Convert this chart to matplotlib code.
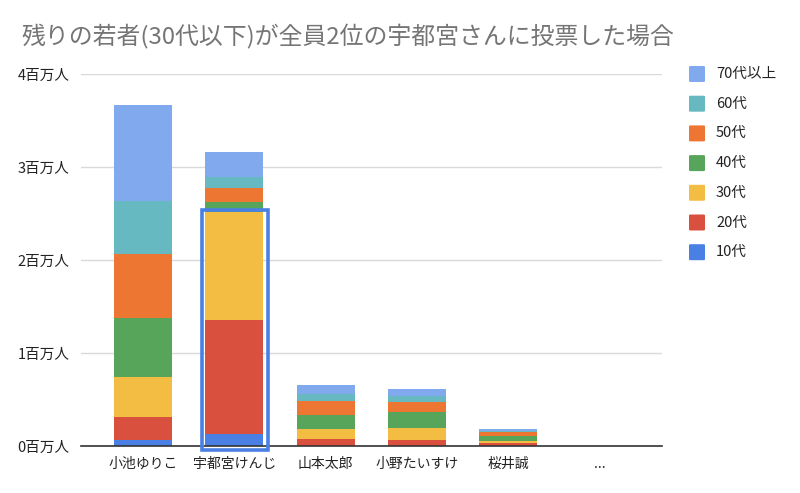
import matplotlib
matplotlib.use("Agg")
import matplotlib.pyplot as plt
from matplotlib.patches import Rectangle, FancyBboxPatch
import numpy as np

plt.rcParams['font.family'] = ['Noto Sans CJK JP', 'DejaVu Sans']

# Data (millions of voters)
candidates = ["小池ゆりこ", "宇都宮けんじ", "山本太郎", "小野たいすけ", "桜井誠", "..."]
age_groups = ["10代", "20代", "30代", "40代", "50代", "60代", "70代以上"]
v10 = [0.06, 0.126, 0.005, 0.005, 0.005, 0]
v20 = [0.25, 1.232, 0.075, 0.06, 0.024, 0]
v30 = [0.43, 1.162, 0.10, 0.129, 0.021, 0]
v40 = [0.634, 0.107, 0.158, 0.175, 0.061, 0]
v50 = [0.69, 0.143, 0.143, 0.10, 0.039, 0]
v60 = [0.57, 0.126, 0.079, 0.068, 0.008, 0]
v70 = [1.03, 0.262, 0.093, 0.071, 0.021, 0]
series = [v10, v20, v30, v40, v50, v60, v70]
colors = ['#4a80e3', '#d9503f', '#f2bd42', '#57a55b', '#ec7632', '#67b9c1', '#81a9ee']
yticks = [0, 1, 2, 3, 4]
ytick_labels = ["0百万人", "1百万人", "2百万人", "3百万人", "4百万人"]

fig = plt.figure(figsize=(8, 4.93), dpi=100)
ax = fig.add_axes([0.101, 0.0953, 0.7265, 0.7547])

x = np.arange(len(candidates))
bottom = np.zeros(len(candidates))
for vals, col, name in zip(series, colors, age_groups):
    ax.bar(x, vals, width=0.635, bottom=bottom, color=col, label=name, zorder=2)
    bottom += np.array(vals)

# highlight box around the young voters of the 2nd candidate
young = v10[1] + v20[1] + v30[1]
rect = Rectangle((0.644, -0.043), 0.728, young + 0.061, fill=False,
                 edgecolor='#4a80e3', linewidth=2.6, zorder=4, clip_on=False)
ax.add_patch(rect)

ax.set_xlim(-0.68, 5.68)
ax.set_ylim(0, 4)
ax.set_yticks(yticks)
ax.set_yticklabels(ytick_labels, fontsize=10.5, color='#222222')
ax.set_xticks(x)
ax.set_xticklabels(candidates, fontsize=10, color='#222222')
ax.tick_params(axis='both', length=0, pad=8)
ax.grid(axis='y', color='#d9d9d9', linewidth=1, zorder=0)
for side in ['top', 'right', 'left']:
    ax.spines[side].set_visible(False)
ax.spines['bottom'].set_color('#333333')
ax.spines['bottom'].set_linewidth(1.2)
ax.spines['bottom'].set_zorder(3)

# title
fig.text(0.0275, 0.925, "残りの若者(30代以下)が全員2位の宇都宮さんに投票した場合",
         fontsize=17.2, color='#757575', ha='left', va='center')

# legend (top entry is the oldest group)
W, H = 800, 493
for i, (name, col) in enumerate(zip(age_groups[::-1], colors[::-1])):
    yc = 74 + i * 29.7
    fig.patches.append(FancyBboxPatch(((689) / W, (H - yc - 8) / H), 16 / W, 16 / H,
                                      boxstyle="round,pad=0,rounding_size=0.002",
                                      transform=fig.transFigure, facecolor=col,
                                      edgecolor='none'))
    fig.text(716 / W, (H - yc) / H, name, fontsize=10.5, color='#222222',
             ha='left', va='center')

fig.savefig("out.png", dpi=100)
